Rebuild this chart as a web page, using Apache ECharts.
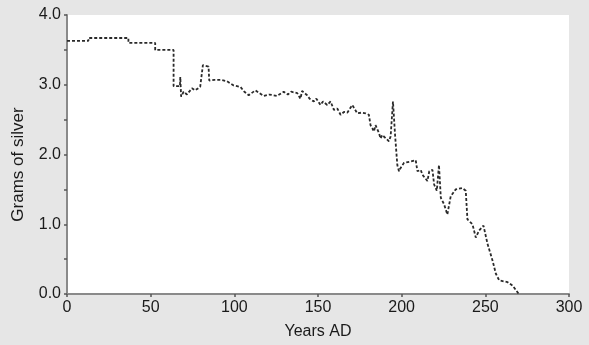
<!DOCTYPE html>
<html><head><meta charset="utf-8">
<script src="https://cdn.jsdelivr.net/npm/echarts@6/dist/echarts.min.js"></script>
<style>html,body{margin:0;padding:0;background:#e6e6e6}#c{width:589px;height:345px}</style>
</head><body><div id="c"></div>
<script>
const years = [0,12.8,12.8,36.7,36.7,52.7,52.7,63.7,63.7,67.5,67.7,68.2,69.7,71.7,74.7,76.6,79.6,81.2,84.6,85,88,92,95.6,99.6,103.6,106,108.6,112.6,117.5,121,125.5,129.5,132,134,137.6,139.5,140.5,143.5,145,147.5,149,151.5,153,155.5,157.5,159.5,161.5,163.5,165.5,167.5,170.5,173.5,176,178.4,180.4,181.4,182.4,183.4,184.4,185.4,186.4,187.4,188.4,189.4,192.4,193.4,194.8,196,197.4,198.4,199.2,201.4,205.4,208.4,209.4,211.4,212.4,215.4,216.5,218.4,219.4,221,222.3,223.4,225.3,227.3,229.3,232.3,236.3,238.3,239.3,242.3,244.3,246.3,248.9,251.3,254.3,256.3,258.3,263.3,266.3,270];
const grams = [3.63,3.63,3.67,3.67,3.60,3.60,3.50,3.50,2.98,2.98,3.11,2.83,2.90,2.86,2.95,2.92,2.97,3.28,3.26,3.06,3.07,3.07,3.05,2.99,2.97,2.90,2.85,2.92,2.84,2.86,2.84,2.90,2.86,2.90,2.88,2.80,2.91,2.85,2.80,2.76,2.80,2.71,2.76,2.71,2.76,2.64,2.66,2.57,2.61,2.60,2.71,2.59,2.60,2.59,2.57,2.42,2.38,2.33,2.42,2.42,2.31,2.23,2.28,2.28,2.19,2.26,2.76,2.30,1.85,1.76,1.80,1.88,1.90,1.92,1.76,1.78,1.71,1.62,1.76,1.78,1.57,1.48,1.85,1.38,1.29,1.14,1.40,1.50,1.52,1.48,1.07,1.00,0.81,0.91,0.98,0.72,0.48,0.29,0.195,0.17,0.12,0.0];
const xTicks = [0,50,100,150,200,250,300];
const yLabels = ['0.0','1.0','2.0','3.0','4.0'];

const chart = echarts.init(document.getElementById('c'));
const font = 'Liberation Sans, Arial, sans-serif';
chart.setOption({
  backgroundColor: '#e6e6e6',
  animation: false,
  grid: {left: 67, right: 20, top: 15, bottom: 48, show: true, backgroundColor: '#ffffff', borderWidth: 0},
  xAxis: {
    type: 'value', min: xTicks[0], max: xTicks[xTicks.length-1], interval: 50,
    name: 'Years AD', nameLocation: 'middle', nameGap: 30,
    nameTextStyle: {fontFamily: font, fontSize: 16, color: '#1a1a1a'},
    axisLine: {show: true, lineStyle: {color: '#8a8a8a', width: 2}},
    axisTick: {show: true, length: 3, lineStyle: {color: '#555', width: 1.5}},
    splitLine: {show: false},
    axisLabel: {fontFamily: font, fontSize: 16, color: '#1a1a1a', margin: 6}
  },
  yAxis: {
    type: 'value', min: 0, max: 4, interval: 0.5,
    name: 'Grams of silver', nameLocation: 'middle', nameGap: 40,
    nameTextStyle: {fontFamily: font, fontSize: 17, color: '#1a1a1a', padding: [0, 20, 0, 0]},
    axisLine: {show: true, lineStyle: {color: '#8a8a8a', width: 2}},
    axisTick: {show: true, length: 3, lineStyle: {color: '#555', width: 1.5}},
    splitLine: {show: false},
    axisLabel: {fontFamily: font, fontSize: 16, color: '#1a1a1a', margin: 6,
      formatter: v => (Math.abs(v - Math.round(v)) < 1e-9 ? yLabels[Math.round(v)] : '')}
  },
  series: [{
    type: 'line', data: years.map((x, i) => [x, grams[i]]),
    showSymbol: false, symbol: 'none',
    lineStyle: {color: '#2a2a2a', width: 1.8, type: [3, 2]}
  }]
});
</script></body></html>
